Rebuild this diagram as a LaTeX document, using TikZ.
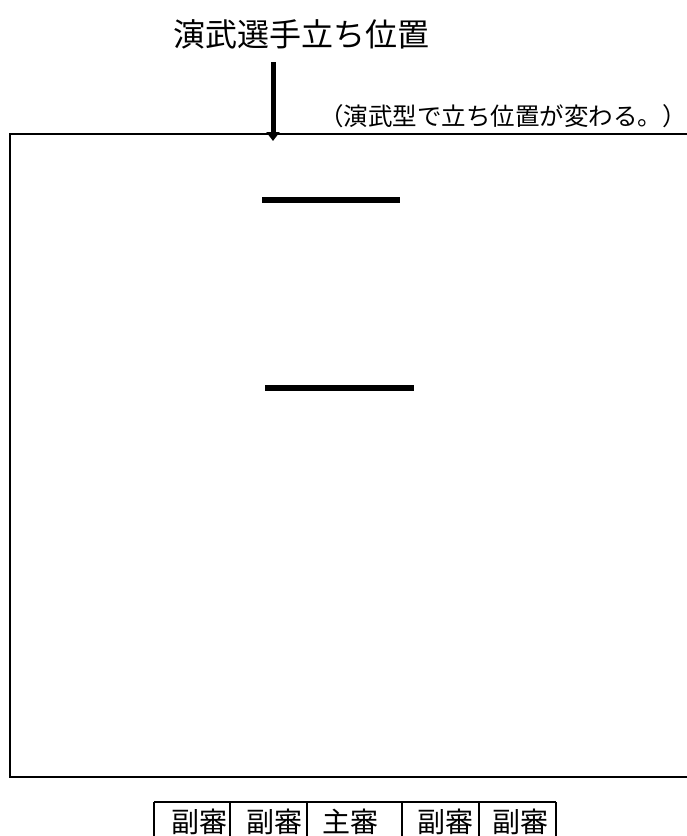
\documentclass[tikz,border=0pt]{standalone}
\usepackage{fontspec}
\newfontfamily\jp{Noto Sans CJK JP}
\usetikzlibrary{arrows.meta}
\begin{document}
\begin{tikzpicture}[x=1pt,y=-1pt,
  txt/.style={inner sep=0pt, font=\jp},
  bar/.style={line width=6pt},
  frame/.style={line width=2pt},
  tbl/.style={line width=1.6pt}]
\useasboundingbox (0,0) rectangle (687,836);
% title
\node[txt, font=\jp\fontsize{32}{32}\selectfont] (title) at (301,34) {演武選手立ち位置};
\node[txt, font=\jp\fontsize{24.5}{25}\selectfont, anchor=west] (note) at (319,116) {（演武型で立ち位置が変わる。）};
% arrow
\coordinate (as) at (273,62);
\coordinate (ae) at (273,141);
\draw[line width=5pt, -{Triangle[width=13pt,length=9pt]}] (as) -- (ae);
% frame
\draw[frame] (687,134) -- (10,134) -- (10,777) -- (687,777);
% bars
\coordinate (b1a) at (262,200); \coordinate (b1b) at (400,200);
\coordinate (b2a) at (265,388); \coordinate (b2b) at (414,388);
\draw[bar] (b1a) -- (b1b);
\draw[bar] (b2a) -- (b2b);
% table
\draw[tbl] (154,802) -- (556,802);
\foreach \xx in {154,230,307,402,479,556}{\draw[tbl] (\xx,802) -- (\xx,840);}
\tikzset{cell/.style={txt, font=\jp\fontsize{28}{28}\selectfont}}
\node[cell] (j1) at (199.5,822) {副審};
\node[cell] (j2) at (274,822) {副審};
\node[cell] (j3) at (350,822) {主審};
\node[cell] (j4) at (445,822) {副審};
\node[cell] (j5) at (520.5,822) {副審};
\end{tikzpicture}
\end{document}
